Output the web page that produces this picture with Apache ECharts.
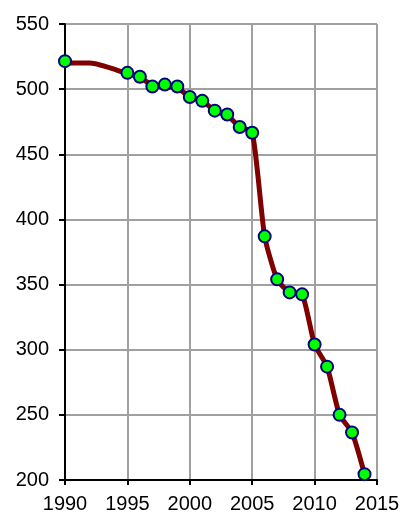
<!DOCTYPE html>
<html>
<head>
<meta charset="utf-8" />
<script src="https://cdn.jsdelivr.net/npm/echarts@6/dist/echarts.min.js"></script>
<style>
  html, body { margin: 0; padding: 0; background: #fff; }
  #chart { width: 404px; height: 516px; }
</style>
</head>
<body>
<div id="chart"></div>
<script>
// line (smoothed) values, includes 1992 without a marker
var lineYears = [1990, 1992, 1995, 1996, 1997, 1998, 1999, 2000, 2001, 2002, 2003, 2004, 2005, 2006, 2007, 2008, 2009, 2010, 2011, 2012, 2013, 2014];
var lineValues = [520, 520, 512, 509, 503, 502, 501, 494, 491, 483.5, 480, 471, 467, 387, 354, 344, 342.5, 304, 287, 250, 236.5, 204.5];

// marker values
var markYears = [1990, 1995, 1996, 1997, 1998, 1999, 2000, 2001, 2002, 2003, 2004, 2005, 2006, 2007, 2008, 2009, 2010, 2011, 2012, 2013, 2014];
var markValues = [521.5, 512.5, 509.5, 502, 503.5, 502, 494, 491, 483.5, 480.5, 471, 466.5, 387, 354, 344, 342.5, 304, 287, 250, 236.5, 204.5];

function pairs(xs, ys) {
  var out = [];
  for (var i = 0; i < xs.length; i++) out.push([xs[i], ys[i]]);
  return out;
}

var chart = echarts.init(document.getElementById('chart'));
chart.setOption({
  animation: false,
  grid: { left: 65, right: 27, top: 24, bottom: 36 },
  xAxis: {
    type: 'value',
    min: 1990, max: 2015, interval: 5,
    axisLine: { lineStyle: { color: '#000', width: 2 } },
    axisTick: { show: true, length: 5, lineStyle: { color: '#000', width: 2 } },
    axisLabel: {
      color: '#000', fontSize: 20, fontFamily: 'Liberation Sans', margin: 14,
      formatter: function (v) { return String(v); }
    },
    splitLine: { show: true, lineStyle: { color: '#a0a0a0', width: 2 } }
  },
  yAxis: {
    type: 'value',
    min: 200, max: 550, interval: 50,
    axisLine: { show: true, lineStyle: { color: '#000', width: 2 } },
    axisTick: { show: true, length: 6, lineStyle: { color: '#000', width: 2 } },
    axisLabel: { color: '#000', fontSize: 20, fontFamily: 'Liberation Sans', margin: 16 },
    splitLine: { show: true, lineStyle: { color: '#a0a0a0', width: 2 } }
  },
  series: [
    {
      type: 'line',
      data: pairs(lineYears, lineValues),
      smooth: 0.2,
      showSymbol: false,
      lineStyle: { color: '#800000', width: 5 },
      z: 2
    },
    {
      type: 'scatter',
      data: pairs(markYears, markValues),
      symbol: 'circle',
      symbolSize: 12,
      itemStyle: { color: '#00ff00', borderColor: '#000080', borderWidth: 2, opacity: 1 },
      z: 3
    }
  ]
});
</script>
</body>
</html>
